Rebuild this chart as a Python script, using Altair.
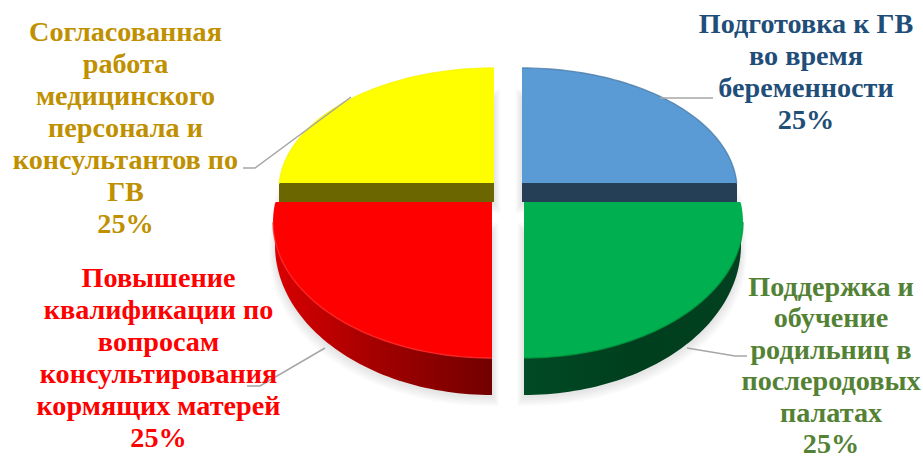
import math
import altair as alt
import pandas as pd

# Slices, clockwise from twelve o'clock
categories = [
    "Подготовка к ГВ во время беременности",
    "Поддержка и обучение родильниц в послеродовых палатах",
    "Повышение квалификации по вопросам консультирования кормящих матерей",
    "Согласованная работа медицинского персонала и консультантов по ГВ",
]
shares = [25, 25, 25, 25]
surface_colors = ["#5B9BD5", "#00B050", "#FF0000", "#FFFF00"]
edge_colors = ["#4A7CA8", "#00983F", "#FF3030", "#F6F600"]
side_stops = [
    ["#243F56", "#243F56"],
    ["#004A24", "#003F1E", "#02401F"],
    ["#D80000", "#A00000", "#720000"],
    ["#6B6600", "#6B6600"],
]
label_colors = ["#1F4E79", "#548235", "#FF0000", "#BF9000"]
label_lines = [
    ["Подготовка к ГВ", "во время", "беременности", "25%"],
    ["Поддержка и", "обучение", "родильниц в", "послеродовых", "палатах", "25%"],
    ["Повышение", "квалификации по", "вопросам", "консультирования", "кормящих матерей", "25%"],
    ["Согласованная", "работа", "медицинского", "персонала и", "консультантов по", "ГВ", "25%"],
]

# Layout of the tilted disc, in page pixels
label_anchor = [(806, 33), (831, 296), (158.5, 287), (125.5, 41)]
line_steps = [32, 31.4, 32, 32]
leaders = [
    [(660, 98), (713, 98)],
    [(687, 348), (735, 356), (747, 356)],
    [(325, 348), (260, 386), (247, 386)],
    [(351, 97), (255, 168), (243, 168)],
]
SPLIT = {"right": {"back": 522, "front": 524}, "left": {"back": 494, "front": 492}}
BACK = dict(cy=190, rx=215, ry=122, base=183, thick=19)
FRONT = dict(cy=222, rx=219, ry=136, top=202)
FRONT_SIDE = dict(cy=245, rx=217, ry=150, top=226)
STEPS = 60
X_SCALE = alt.Scale(domain=[0, 923])
Y_SCALE = alt.Scale(domain=[459, 0])


def slice_rows(start, end, name):
    """Sample one wedge from its angular extent, one row per x position."""
    mid = (start + end) / 2
    side = "right" if math.sin(mid) > 0 else "left"
    depth = "front" if math.cos(mid) < 0 else "back"
    cx = SPLIT[side][depth]
    sgn = 1 if side == "right" else -1
    rows = []
    for k in range(STEPS + 1):
        t = start + (end - start) * k / STEPS
        u = abs(math.sin(t))
        root = math.sqrt(max(0.0, 1 - u * u))
        row = {"name": name, "u": u}
        if depth == "back":
            row["x"] = cx + sgn * BACK["rx"] * u
            row["top"] = min(BACK["base"], BACK["cy"] - BACK["ry"] * root)
            row["bottom"] = BACK["base"]
            row["side_x"] = row["x"]
            row["side_top"] = BACK["base"]
            row["side_bottom"] = BACK["base"] + BACK["thick"]
        else:
            row["x"] = cx + sgn * FRONT["rx"] * u
            row["bottom"] = FRONT["cy"] + FRONT["ry"] * root
            row["top"] = max(FRONT["top"], FRONT["cy"] - FRONT["ry"] * root)
            row["side_x"] = cx + sgn * FRONT_SIDE["rx"] * u
            row["side_bottom"] = FRONT_SIDE["cy"] + FRONT_SIDE["ry"] * root
            row["side_top"] = max(FRONT_SIDE["top"], FRONT_SIDE["cy"] - FRONT_SIDE["ry"] * root)
        rows.append(row)
    return pd.DataFrame(rows), depth, sgn


X = alt.X("x:Q", scale=X_SCALE, axis=None)
Y = alt.Y("top:Q", scale=Y_SCALE, axis=None)

shadow_layers, body_layers, line_layers, text_layers = [], [], [], []
total = sum(shares)
angle = 0.0
for i, name in enumerate(categories):
    sweep = 2 * math.pi * shares[i] / total
    df, depth, sgn = slice_rows(angle, angle + sweep, name)
    angle += sweep

    # Soft drop shadow built from widening translucent copies
    for grow in (1, 3, 5, 7, 9):
        shadow = df.copy()
        shadow["sx"] = shadow["side_x"] + sgn * grow * 0.6 * shadow["u"]
        shadow["s_top"] = shadow["top"] + 30 - grow
        shadow["s_bot"] = shadow["side_bottom"] + 2 + grow
        # Extra sliver on the inner edge, spilling into the gap between slices
        inner = shadow.loc[[shadow["u"].idxmin()]].copy()
        inner["sx"] = inner["side_x"] - sgn * (1 + grow * 0.6)
        shadow = pd.concat([inner, shadow], ignore_index=True)
        shadow_layers.append(
            alt.Chart(shadow).mark_area(color="#808080", opacity=0.045).encode(
                x=alt.X("sx:Q", scale=X_SCALE, axis=None),
                y=alt.Y("s_top:Q", scale=Y_SCALE, axis=None),
                y2="s_bot:Q",
            )
        )

    # Wall of the disc, shaded left to right
    stops = side_stops[i]
    gradient = alt.Gradient(
        gradient="linear",
        x1=0, x2=1, y1=0, y2=0,
        stops=[alt.GradientStop(offset=j / (len(stops) - 1), color=c) for j, c in enumerate(stops)],
    )
    body_layers.append(
        alt.Chart(df).mark_area(color=gradient).encode(
            x=alt.X("side_x:Q", scale=X_SCALE, axis=None),
            y=alt.Y("side_top:Q", scale=Y_SCALE, axis=None),
            y2="side_bottom:Q",
        )
    )
    # Top face of the wedge
    body_layers.append(
        alt.Chart(df).mark_area(color=surface_colors[i]).encode(x=X, y=Y, y2="bottom:Q")
    )
    # Bevel along the outer rim
    rim_field = "bottom" if depth == "front" else "top"
    body_layers.append(
        alt.Chart(df).mark_line(color=edge_colors[i], strokeWidth=1.4, opacity=0.8).encode(
            x=X, y=alt.Y(f"{rim_field}:Q", scale=Y_SCALE, axis=None)
        )
    )

    # Leader from the wedge to its caption
    lead = pd.DataFrame(
        [{"x": p[0], "top": p[1], "order": n} for n, p in enumerate(leaders[i])]
    )
    line_layers.append(
        alt.Chart(lead).mark_line(color="#A6A6A6", strokeWidth=1.5).encode(x=X, y=Y, order="order:Q")
    )

    # Caption, one row per line of text
    ax, ay = label_anchor[i]
    caption = pd.DataFrame(
        [{"x": ax, "top": ay + n * line_steps[i], "t": s} for n, s in enumerate(label_lines[i])]
    )
    text_layers.append(
        alt.Chart(caption)
        .mark_text(
            font="Liberation Serif", fontWeight="bold", fontSize=28.2,
            color=label_colors[i], align="center", baseline="alphabetic",
        )
        .encode(x=X, y=Y, text="t:N")
    )

chart = (
    alt.layer(*shadow_layers, *body_layers, *line_layers, *text_layers)
    .properties(width=923, height=459, padding=0, background="white")
    .configure_view(stroke=None)
)
chart.save("out.html", embed_options={"renderer": "svg", "actions": False})
